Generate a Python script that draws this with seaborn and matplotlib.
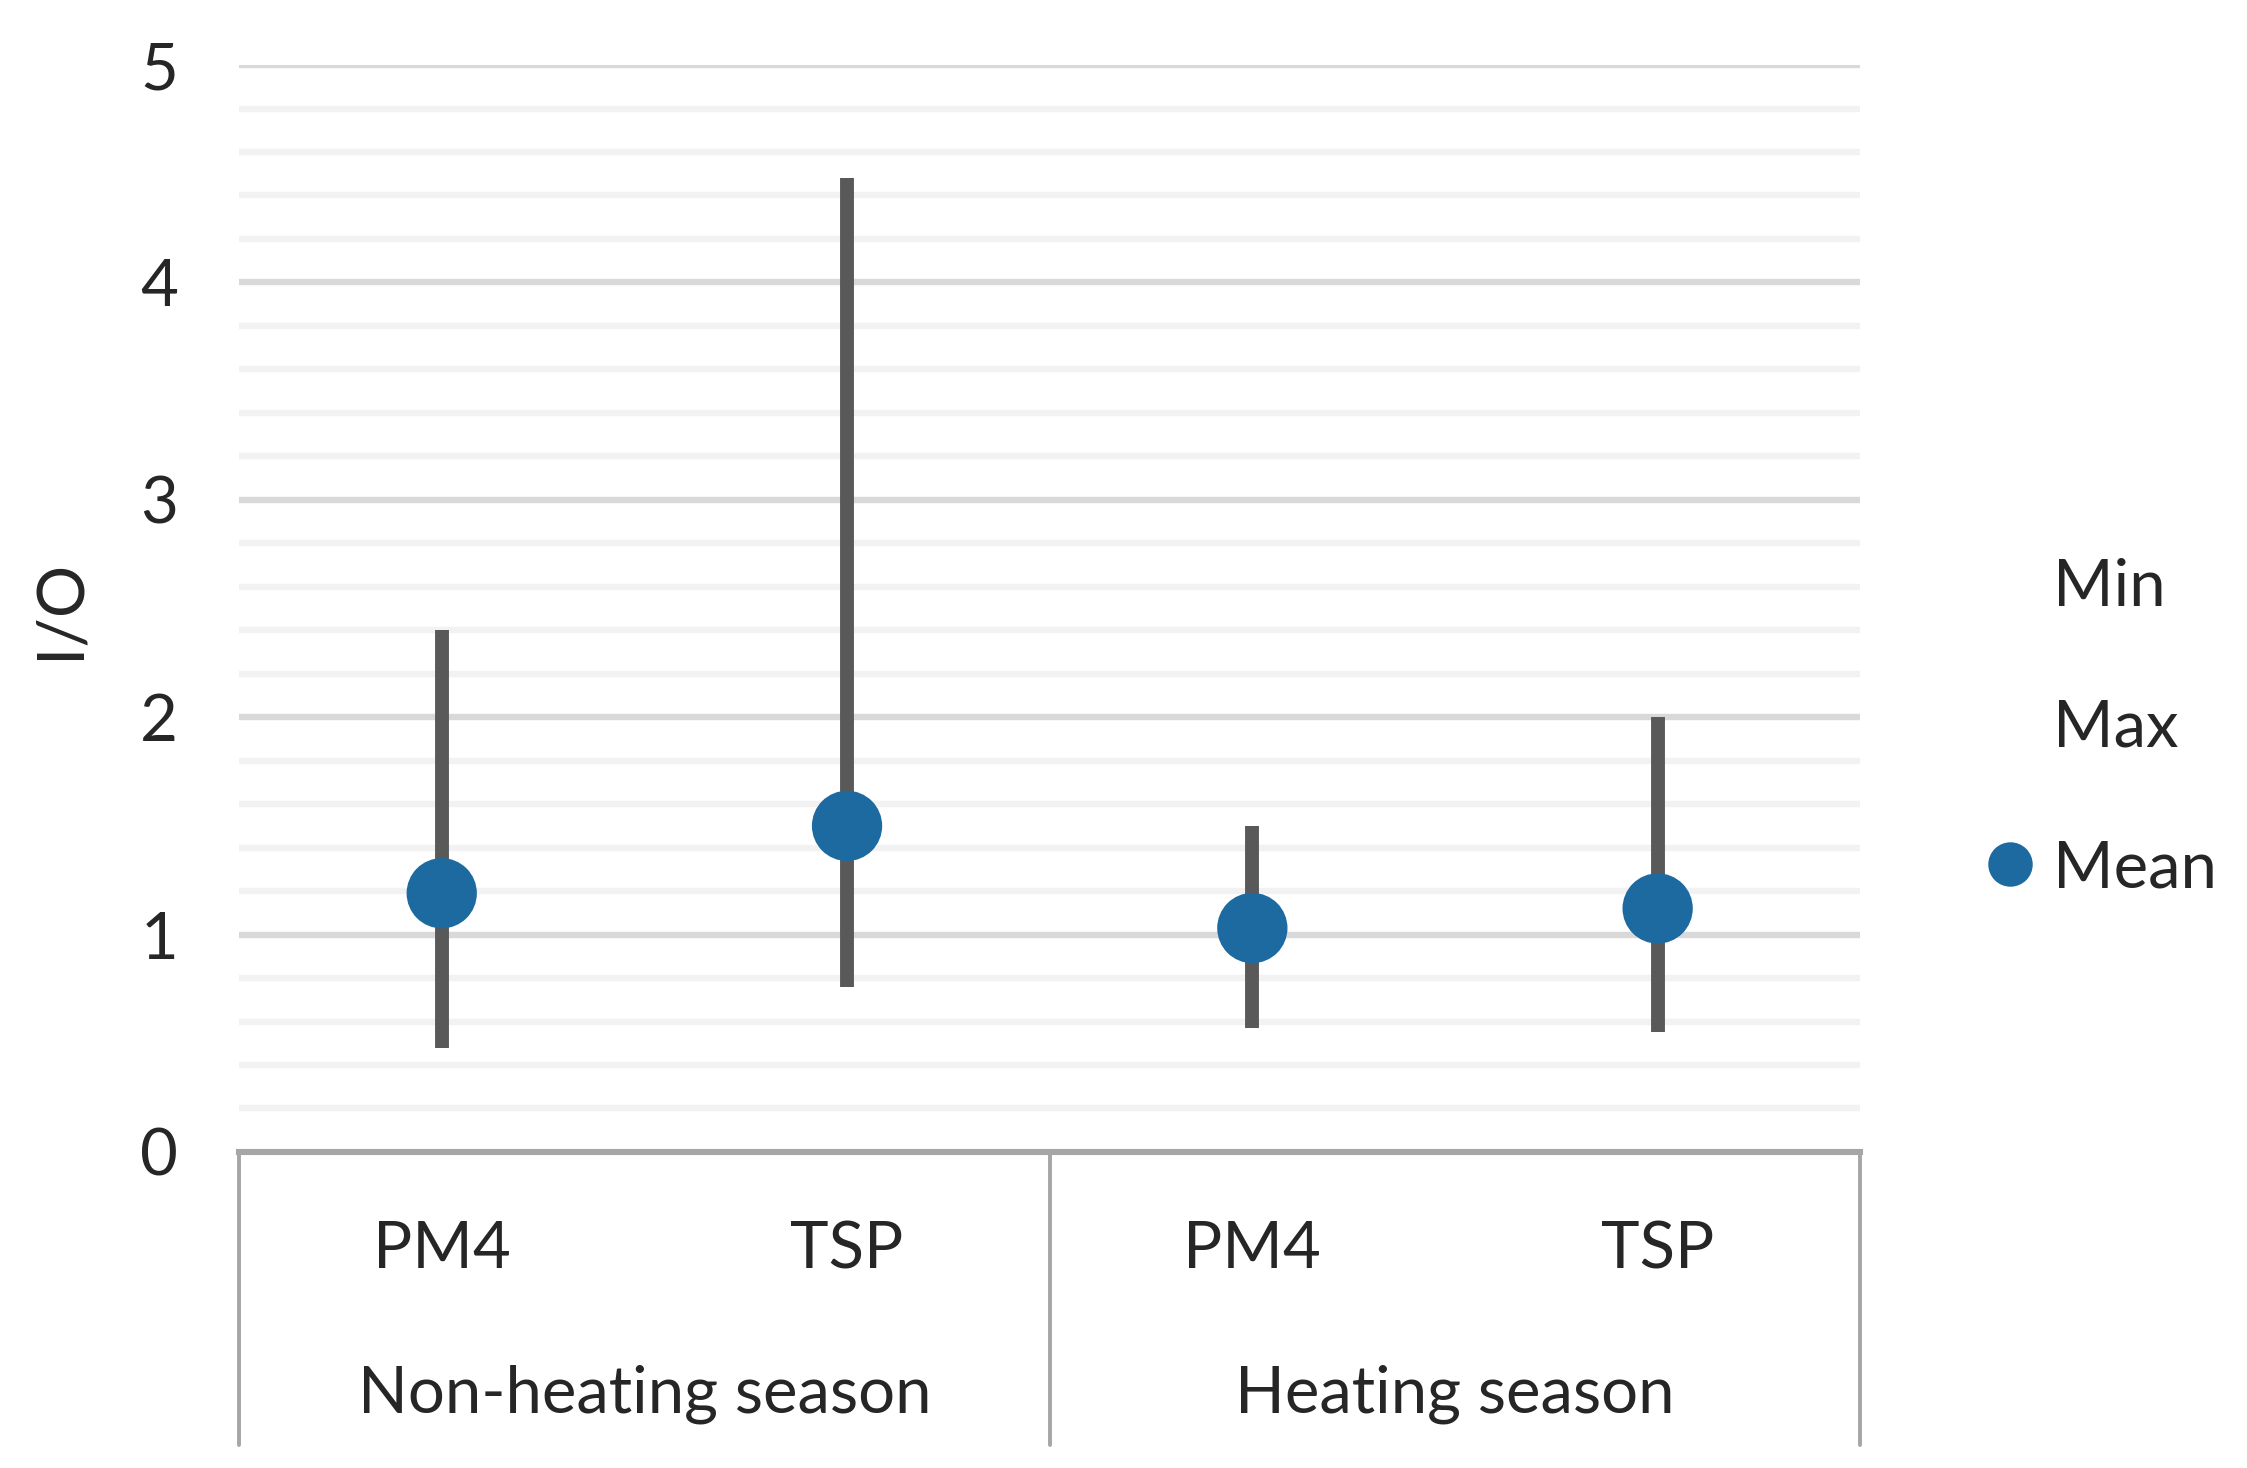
import numpy as np
import pandas as pd
import matplotlib.pyplot as plt
import matplotlib.transforms as mtransforms
from matplotlib.lines import Line2D
import seaborn as sns

# 데이터
seasons = ['Non-heating season', 'Non-heating season', 'Heating season', 'Heating season']
particles = ['PM4', 'TSP', 'PM4', 'TSP']
io_min = [0.48, 0.76, 0.57, 0.55]
io_max = [2.40, 4.48, 1.50, 2.00]
io_mean = [1.19, 1.50, 1.03, 1.12]

df = pd.DataFrame({'season': seasons, 'particle': particles,
                   'min': io_min, 'max': io_max, 'mean': io_mean})
df['cat'] = df['season'] + ' ' + df['particle']

sns.set_style('white')
plt.rcParams['font.family'] = ['Lato', 'DejaVu Sans']

fig = plt.figure(figsize=(11.235, 7.34), dpi=200)
ax = fig.add_axes([0.1064, 0.2153, 0.7215, 0.7404])

blue = '#1c6a9f'
line_c = '#595959'
fs = 23.5

# 격자선
for v in np.arange(0.2, 5.01, 0.2):
    major = abs(v - round(v)) < 1e-6
    ax.axhline(v, color='#d9d9d9' if major else '#f2f2f2', lw=2.3, zorder=0)

# 범위 선
pos = np.arange(len(df))
ax.vlines(pos, df['min'], df['max'], color=line_c, lw=5, zorder=2)

# 평균 점
sns.scatterplot(data=df, x='cat', y='mean', color=blue, s=640, edgecolor='none',
                zorder=3, ax=ax, legend=False)

ax.set_xlim(-0.5, 3.5)
ax.set_ylim(0, 5)
ax.set_yticks(range(6))
ax.tick_params(axis='y', labelsize=fs, pad=22, length=0)
ax.set_xticks([])
ax.set_xlabel('')
ax.set_ylabel('I/O', fontsize=fs, labelpad=18)
for s in ['left', 'right', 'top']:
    ax.spines[s].set_visible(False)
ax.spines['bottom'].set_color('#a6a6a6')
ax.spines['bottom'].set_linewidth(2.2)

# 다단 카테고리 축
trans = mtransforms.blended_transform_factory(ax.transData, ax.transAxes)
for x, p in zip(pos, df['particle']):
    ax.text(x, -0.09, p, transform=trans, ha='center', va='center', fontsize=fs)
groups = df.groupby('season', sort=False)
for name, g in groups:
    xc = (g.index.min() + g.index.max()) / 2
    ax.text(xc, -0.223, name, transform=trans, ha='center', va='center', fontsize=fs)
for xb in [-0.5, 1.5, 3.5]:
    ax.plot([xb, xb], [0, -0.27], transform=trans, color='#a6a6a6', lw=1.4, clip_on=False)

# 범례
handles = [Line2D([], [], ls='none', marker='o', color='none', markersize=15),
           Line2D([], [], ls='none', marker='o', color='none', markersize=15),
           Line2D([], [], ls='none', marker='o', color=blue, markersize=15)]
fig.legend(handles, ['Min', 'Max', 'Mean'], loc='center left', bbox_to_anchor=(0.851, 0.504),
           frameon=False, fontsize=fs, labelspacing=1.25, handletextpad=0.05, handlelength=1.2)

fig.savefig('out.png', dpi=200)
